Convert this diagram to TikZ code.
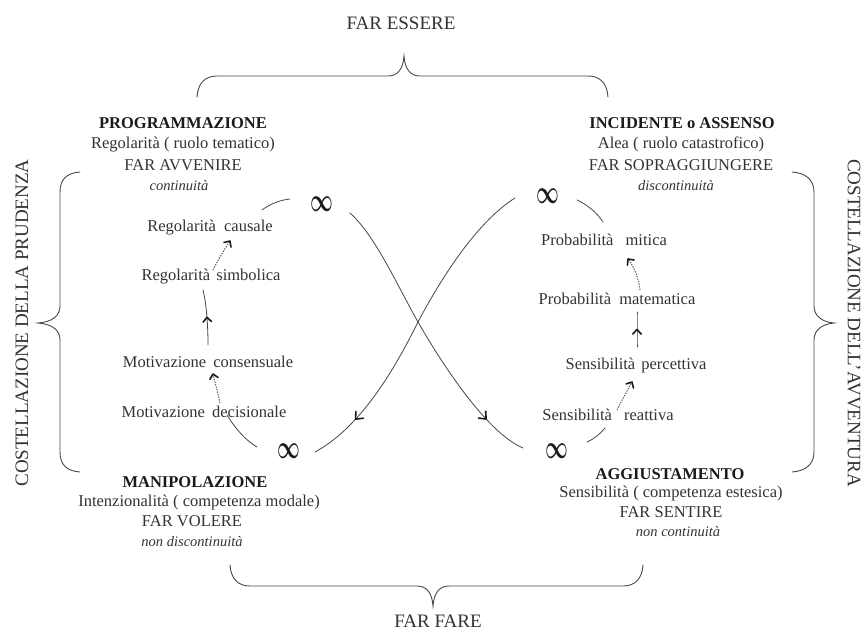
\documentclass[tikz,border=0pt]{standalone}
\usepackage{fontspec}
\setmainfont{Liberation Serif}
\usepackage{amsmath}
\usetikzlibrary{decorations.markings}
\definecolor{txt}{HTML}{333333}
\definecolor{hd}{HTML}{1A1A1A}
\definecolor{ln}{HTML}{474747}
\definecolor{dt}{HTML}{5A5A5A}
\tikzset{
  lbl/.style={inner sep=0pt, anchor=base, text=txt, font=\fontsize{16.5}{20}\selectfont},
  hdr/.style={lbl, text=hd, font=\fontsize{16.5}{20}\selectfont\bfseries},
  ital/.style={lbl, font=\fontsize{14.5}{18}\selectfont\itshape},
  bigtxt/.style={lbl, font=\fontsize{19}{22}\selectfont},
  inf/.style={inner sep=0pt, anchor=center, text=hd},
  loopline/.style={draw=ln, line width=0.8pt, line cap=round},
  brc/.style={draw=ln, line width=0.9pt, line cap=round},
  chev/.style={draw=hd, solid, line width=1.6pt, line cap=round, line join=round},
  midarr/.style={postaction={decorate,decoration={markings,mark=at position #1 with {\draw[chev] (-4.5pt,4.2pt) -- (0pt,0pt) -- (-4.5pt,-4.2pt);}}}},
  bigarr/.style={postaction={decorate,decoration={markings,mark=at position #1 with {\draw[chev] (-6pt,5pt) -- (0pt,0pt) -- (-6pt,-5pt);}}}},
  dotarr/.style={draw=dt, line width=1pt, dash pattern=on 1.4pt off 1.2pt, midarr=0.999},
}
\newcommand{\infsym}{\scalebox{1.15}[1.9]{\fontsize{19}{19}\selectfont$\boldsymbol{\infty}$}}
\begin{document}
\begin{tikzpicture}[x=1pt,y=-1pt]
\fill[white] (0,0) rectangle (864,634);
\useasboundingbox (0,0) rectangle (864,634);

% braces
\draw[brc] (197,97) .. controls (198,83) and (205,76) .. (217,76) -- (388,76) .. controls (397,76) and (403,70) .. (404,56) .. controls (405,70) and (411,76) .. (420,76) -- (588,76) .. controls (600,76) and (607,83) .. (608,97);
\draw[brc] (230,565) .. controls (231,579) and (238,586) .. (250,586) -- (417,586) .. controls (426,586) and (432,592) .. (433,606) .. controls (434,592) and (440,586) .. (449,586) -- (623,586) .. controls (635,586) and (642,579) .. (643,565);
\draw[brc] (80,172) .. controls (66,173) and (60,180) .. (60,192) -- (60,306) .. controls (60,316) and (52,322) .. (38,323) .. controls (52,324) and (60,330) .. (60,340) -- (60,452) .. controls (60,464) and (66,471) .. (80,472);
\draw[brc] (792,172) .. controls (806,173) and (814,180) .. (814,192) -- (814,306) .. controls (814,316) and (822,322) .. (834,323) .. controls (822,324) and (814,330) .. (814,340) -- (814,452) .. controls (814,464) and (806,471) .. (792,472);

% outer labels
\node[bigtxt] (fe) at (401,30) {FAR ESSERE};
\node[bigtxt] (ff) at (438,627) {FAR FARE};
\node[bigtxt, anchor=center, rotate=90] (cp) at (22,323) {COSTELLAZIONE DELLA PRUDENZA};
\node[bigtxt, anchor=center, rotate=-90] (ca) at (854,323) {COSTELLAZIONE DELL'AVVENTURA};

% corner blocks
\node[hdr] (pr1) at (183,128) {PROGRAMMAZIONE};
\node[lbl] (pr2) at (183,148) {Regolarità ( ruolo tematico)};
\node[lbl] (pr3) at (183,170) {FAR AVVENIRE};
\node[ital] (pr4) at (179,190) {continuità};

\node[hdr] (in1) at (682,128) {INCIDENTE o ASSENSO};
\node[lbl] (in2) at (681,148) {Alea ( ruolo catastrofico)};
\node[lbl] (in3) at (681,170) {FAR SOPRAGGIUNGERE};
\node[ital] (in4) at (676,190) {discontinuità};

\node[hdr] (ma1) at (195,487) {MANIPOLAZIONE};
\node[lbl] (ma2) at (199,506) {Intenzionalità ( competenza modale)};
\node[lbl] (ma3) at (192,526) {FAR VOLERE};
\node[ital] (ma4) at (192,546) {non discontinuità};

\node[hdr] (ag1) at (670,479) {AGGIUSTAMENTO};
\node[lbl] (ag2) at (671,497) {Sensibilità ( competenza estesica)};
\node[lbl] (ag3) at (671,517) {FAR SENTIRE};
\node[ital] (ag4) at (678,536) {non continuità};

% loop labels
\node[lbl] (rc) at (210,231) {Regolarità\hspace{4pt} causale};
\node[lbl] (rs) at (211,280) {Regolarità\hspace{2pt} simbolica};
\node[lbl] (mc) at (208,367) {Motivazione\hspace{3pt} consensuale};
\node[lbl] (md) at (204,417) {Motivazione\hspace{3pt} decisionale};
\node[lbl] (pm) at (604,245) {Probabilità\hspace{8pt} mitica};
\node[lbl] (pa) at (617,304) {Probabilità\hspace{4pt} matematica};
\node[lbl] (sp) at (636,369) {Sensibilità\hspace{2pt} percettiva};
\node[lbl] (sr) at (608,420) {Sensibilità\hspace{8pt} reattiva};

% infinity signs
\node[inf] (i1) at (322,204) {\infsym};
\node[inf] (i2) at (289,451) {\infsym};
\node[inf] (i3) at (548,196) {\infsym};
\node[inf] (i4) at (557,451) {\infsym};

% endpoints
\coordinate (a1s) at (262,210); \coordinate (a1e) at (290,199);
\coordinate (d1s) at (213,270); \coordinate (d1e) at (230,241);
\coordinate (a2s) at (208,345); \coordinate (a2e) at (203,290);
\coordinate (d2s) at (220,403); \coordinate (d2e) at (213,374);
\coordinate (a3s) at (227,415); \coordinate (a3e) at (257,447);
\coordinate (c1s) at (515,198); \coordinate (xm) at (418,322); \coordinate (c1e) at (315,452);
\coordinate (c2s) at (350,213); \coordinate (c2e) at (523,448);
\coordinate (r1s) at (577,200); \coordinate (r1e) at (603,222);
\coordinate (e1s) at (640,290); \coordinate (e1e) at (628,259);
\coordinate (r2s) at (637,347); \coordinate (r2e) at (637,312);
\coordinate (e2s) at (617,410); \coordinate (e2e) at (632,382);
\coordinate (r3s) at (605,428); \coordinate (r3e) at (587,442);

% left loop
\draw[loopline] (a1s) .. controls (270,204) and (280,200) .. (a1e);
\draw[dotarr] (d1s) .. controls (218,260) and (224,250) .. (d1e);
\draw[loopline, midarr=0.5] (a2s) .. controls (208,322) and (206,302) .. (a2e);
\draw[dotarr] (d2s) .. controls (218,393) and (215,383) .. (d2e);
\draw[loopline] (a3s) .. controls (235,428) and (245,440) .. (a3e);

% crossing curves
\draw[loopline, bigarr=0.84] (c1s) .. controls (475,223) and (438,284) .. (xm) .. controls (400,358) and (365,425) .. (c1e);
\draw[loopline, bigarr=0.84] (c2s) .. controls (375,235) and (398,287) .. (xm) .. controls (438,357) and (485,432) .. (c2e);

% right loop
\draw[loopline] (r1s) .. controls (588,205) and (597,213) .. (r1e);
\draw[dotarr] (e1s) .. controls (639,280) and (635,268) .. (e1e);
\draw[loopline, midarr=0.5] (r2s) .. controls (637,335) and (637,322) .. (r2e);
\draw[dotarr] (e2s) .. controls (622,400) and (627,391) .. (e2e);
\draw[loopline] (r3s) .. controls (600,434) and (594,439) .. (r3e);
\end{tikzpicture}
\end{document}
